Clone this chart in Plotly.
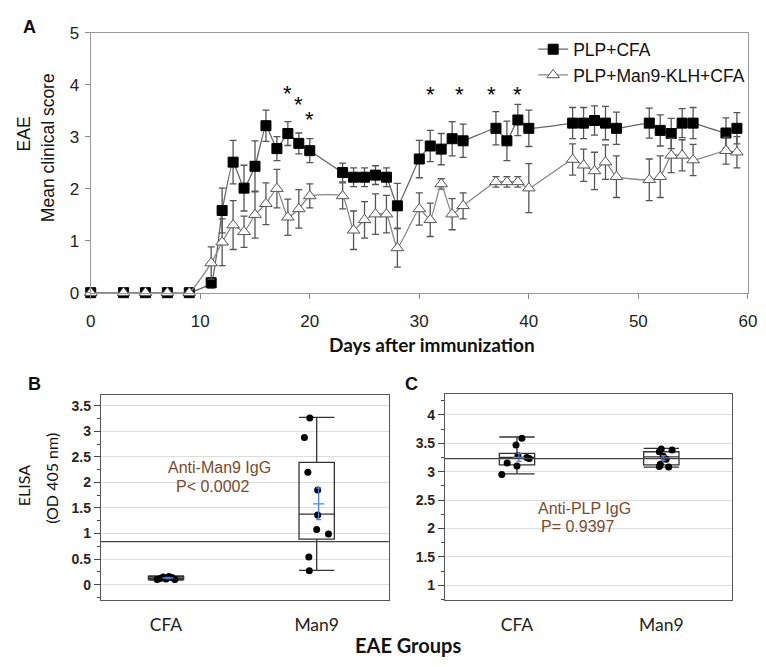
import plotly.graph_objects as go

W, H = 766, 667

def px(x):
    return x / W

def py(y):
    return 1 - y / H

# ---------------- Panel A data ----------------
days = [0, 3, 5, 7, 9, 11, 12, 13, 14, 15, 16, 17, 18, 19, 20, 23, 24, 25, 26, 27, 28,
        30, 31, 32, 33, 34, 37, 38, 39, 40, 44, 45, 46, 47, 48, 51, 52, 53, 54, 55, 58, 59]
cfa_mean = [0, 0, 0, 0, 0, 0.19, 1.58, 2.51, 2.01, 2.43, 3.21, 2.77, 3.06, 2.87, 2.73,
            2.31, 2.22, 2.22, 2.26, 2.22, 1.67,
            2.57, 2.82, 2.76, 2.96, 2.92, 3.16, 2.92, 3.32, 3.16, 3.26, 3.26, 3.31, 3.26, 3.16,
            3.26, 3.12, 3.06, 3.26, 3.26, 3.07, 3.16]
cfa_err = [0, 0, 0, 0, 0, 0.1, 0.43, 0.42, 0.44, 0.49, 0.3, 0.23, 0.23, 0.2, 0.23,
           0.18, 0.18, 0.18, 0.18, 0.18, 0.43,
           0.36, 0.3, 0.3, 0.33, 0.32, 0.32, 0.38, 0.3, 0.35, 0.3, 0.3, 0.28, 0.32, 0.31,
           0.29, 0.3, 0.29, 0.28, 0.3, 0.29, 0.3]
man9_mean = [0, 0, 0, 0, 0, 0.57, 0.97, 1.30, 1.17, 1.50, 1.71, 2.0, 1.45, 1.61, 1.86,
             1.86, 1.20, 1.40, 1.51, 1.51, 0.86,
             1.61, 1.40, 2.09, 1.51, 1.67, 2.13, 2.13, 2.13, 2.01, 2.56, 2.45, 2.34, 2.51, 2.23,
             2.17, 2.23, 2.64, 2.64, 2.55, 2.73, 2.70]
man9_err = [0, 0, 0, 0, 0, 0.31, 0.45, 0.47, 0.3, 0.45, 0.4, 0.37, 0.35, 0.37, 0.23,
            0.25, 0.37, 0.35, 0.39, 0.36, 0.37,
            0.31, 0.32, 0.1, 0.3, 0.25, 0.1, 0.1, 0.1, 0.47, 0.3, 0.31, 0.36, 0.33, 0.4,
            0.4, 0.4, 0.33, 0.3, 0.3, 0.26, 0.3]
star_days = [18, 19, 20, 31, 33.7, 36.6, 39]
star_heights = [3.87, 3.66, 3.36, 3.85, 3.85, 3.85, 3.85]
x_ticks_a = [0, 10, 20, 30, 40, 50, 60]
y_ticks_a = [0, 1, 2, 3, 4, 5]

# ---------------- Panel B / C data ----------------
groups = ["CFA", "Man9"]
b_cfa_vals = [0.10, 0.12, 0.15, 0.11, 0.16, 0.14, 0.10, 0.13]
b_man9_vals = [3.26, 2.88, 2.20, 1.85, 1.36, 1.08, 0.99, 0.54, 0.27]
b_box_lower = [0.09, 0.28]
b_box_q1 = [0.11, 0.89]
b_box_median = [0.13, 1.38]
b_box_q3 = [0.16, 2.39]
b_box_upper = [0.17, 3.27]
b_mean = [0.13, 1.58]
b_se = [0.01, 0.31]
b_grand_mean = 0.84

c_cfa_vals = [3.59, 3.47, 3.28, 3.23, 3.15, 3.10, 2.95, 3.25]
c_man9_vals = [3.40, 3.38, 3.35, 3.27, 3.22, 3.13, 3.08, 3.09]
c_box_lower = [2.96, 3.08]
c_box_q1 = [3.12, 3.12]
c_box_median = [3.25, 3.26]
c_box_q3 = [3.32, 3.35]
c_box_upper = [3.61, 3.41]
c_mean = [3.25, 3.24]
c_se = [0.07, 0.04]
c_grand_mean = 3.23

# jitter (horizontal pixel offsets of the dots, style only)
b_cfa_jit = [-9, -6, -3, 0, 3, 6, 9, -1]
b_man9_jit = [-7, -12.5, -9, 1, 1, 0, 12, -8, -7.5]
c_cfa_jit = [5, -1, 1, 12.5, -10, 0, -15.5, 10]
c_man9_jit = [0, 11, -2, 2, 5, -1, 7.5, -2]

ARIAL = "Liberation Sans"
CAL = "Lato"

fig = go.Figure()

# ----- Panel A traces -----
fig.add_trace(go.Scatter(
    x=days, y=cfa_mean, name="PLP+CFA", mode="lines+markers",
    line=dict(color="#666666", width=1.3, shape="spline", smoothing=0.4),
    marker=dict(symbol="square", size=10, color="black", line=dict(color="black", width=1)),
    error_y=dict(type="data", array=cfa_err, color="#555555", thickness=1.3, width=3.5),
    cliponaxis=False, xaxis="x", yaxis="y"))
fig.add_trace(go.Scatter(
    x=days, y=man9_mean, name="PLP+Man9-KLH+CFA", mode="lines+markers",
    line=dict(color="#888888", width=1.3, shape="spline", smoothing=0.4),
    marker=dict(symbol="triangle-up", size=11, color="white", line=dict(color="#555555", width=1)),
    error_y=dict(type="data", array=man9_err, color="#555555", thickness=1.3, width=3.5),
    cliponaxis=False, xaxis="x", yaxis="y"))

for d, h in zip(star_days, star_heights):
    fig.add_annotation(x=d, y=h, xref="x", yref="y", text="*", showarrow=False,
                       font=dict(family=ARIAL, size=22, color="black"), yshift=-2)

# ----- Panel B / C traces -----
def panel(xa, ya, vals_list, jit_list, unit_px, lower, q1, med, q3, upper, mean, se):
    for gi in range(2):
        fig.add_trace(go.Box(
            x=[gi], lowerfence=[lower[gi]], q1=[q1[gi]], median=[med[gi]], q3=[q3[gi]],
            upperfence=[upper[gi]], width=36 / unit_px, whiskerwidth=1,
            fillcolor="rgba(0,0,0,0)", line=dict(color="#333333", width=1.3),
            boxpoints=False, showlegend=False, xaxis=xa, yaxis=ya, hoverinfo="skip"))
        vals = vals_list[gi]
        jit = jit_list[gi]
        fig.add_trace(go.Scatter(
            x=[gi + j / unit_px for j in jit], y=vals, mode="markers",
            marker=dict(color="black", size=7), showlegend=False, xaxis=xa, yaxis=ya))
        fig.add_trace(go.Scatter(
            x=[gi + 2 / unit_px], y=[mean[gi]], mode="markers",
            marker=dict(symbol="line-ew", size=8, line=dict(color="#4a80e8", width=1.3)),
            error_y=dict(type="data", array=[se[gi]], color="#4a80e8", thickness=1.3, width=2.5),
            showlegend=False, xaxis=xa, yaxis=ya))

panel("x2", "y2", [b_cfa_vals, b_man9_vals], [b_cfa_jit, b_man9_jit], 153.5,
      b_box_lower, b_box_q1, b_box_median, b_box_q3, b_box_upper, b_mean, b_se)
panel("x3", "y3", [c_cfa_vals, c_man9_vals], [c_cfa_jit, c_man9_jit], 147.0,
      c_box_lower, c_box_q1, c_box_median, c_box_q3, c_box_upper, c_mean, c_se)

fig.add_shape(type="line", xref="x2 domain", yref="y2", x0=0, x1=1,
              y0=b_grand_mean, y1=b_grand_mean, line=dict(color="#444444", width=1.2))
fig.add_shape(type="line", xref="x3 domain", yref="y3", x0=0, x1=1,
              y0=c_grand_mean, y1=c_grand_mean, line=dict(color="#444444", width=1.2))

# ----- axes -----
axA = dict(showline=True, linecolor="#999999", linewidth=1.2, mirror=True,
           ticks="outside", tickcolor="#888888", ticklen=5, showgrid=False, zeroline=False,
           ticklabeloverflow="allow",
           tickfont=dict(family=ARIAL, size=17, color="#222222"))
fig.update_layout(
    xaxis=dict(domain=[px(87.3), px(756.7)], range=[0, 60], tickvals=x_ticks_a,
               anchor="y", ticklabelstandoff=8, **axA),
    yaxis=dict(domain=[py(292), py(24.3)], range=[0, 5], tickvals=y_ticks_a,
               anchor="x", ticklabelstandoff=2, **axA),
)

def bc_y(domain, rng, tickvals):
    return dict(domain=domain, range=rng, tickvals=tickvals,
                ticktext=[("%g" % v) for v in tickvals],
                showline=True, linecolor="#555555", linewidth=1.3, mirror=True,
                ticks="outside", ticklen=6, tickcolor="#444444",
                minor=dict(ticks="outside", ticklen=3, dtick=0.25, tickcolor="#444444", showgrid=False),
                showgrid=True, gridcolor="#dcdcdc", gridwidth=1, zeroline=False,
                tickfont=dict(family=ARIAL, size=14, color="#2a2520", weight="bold"))

def bc_x(domain, rng, anchor):
    return dict(domain=domain, range=rng, tickvals=[0, 1], ticktext=groups,
                showline=True, linecolor="#555555", linewidth=1.3, mirror=True,
                ticks="", showgrid=False, zeroline=False, anchor=anchor,
                ticklabelstandoff=9,
                tickfont=dict(family=CAL, size=17.5, color="#222222"))

fig.update_layout(
    xaxis2=bc_x([px(97.7), px(391)], [-0.432, 1.479], "y2"),
    yaxis2=dict(anchor="x2", **bc_y([py(608.3), py(397.3)], [-0.3, 3.71],
                                      [0, 0.5, 1, 1.5, 2, 2.5, 3, 3.5])),
    xaxis3=bc_x([px(448.3), px(740.7)], [-0.498, 1.491], "y3"),
    yaxis3=dict(anchor="x3", **bc_y([py(608.3), py(396.7)], [0.74, 4.36],
                                      [1, 1.5, 2, 2.5, 3, 3.5, 4])),
)

# ----- text annotations -----
def ann(x, y, text, size, family=ARIAL, bold=False, color="#111111", angle=0, xanchor="center"):
    fig.add_annotation(x=px(x), y=py(y), xref="paper", yref="paper", text=text,
                       showarrow=False, textangle=angle, xanchor=xanchor, yanchor="middle",
                       font=dict(family=family, size=size, color=color,
                                 weight="bold" if bold else "normal"))

ann(25, 19, "A", 18, bold=True)
ann(30, 386, "B", 18, bold=True)
ann(414, 386, "C", 18, bold=True)
ann(19.5, 129, "EAE", 17.5, angle=-90)
ann(44.5, 142.5, "Mean clinical score", 17.5, angle=-90)
ann(435, 345, "Days after immunization", 19, family=CAL, bold=True)
ann(18.5, 491, "ELISA", 16, family=CAL, angle=-90)
ann(47.5, 483, "(OD 405 nm)", 16, family=CAL, angle=-90)
ann(410, 655, "EAE Groups", 20, family=CAL, bold=True)
brown = "#7a4a30"
ann(219, 472, "Anti-Man9 IgG", 16, color=brown)
ann(212, 492, "P< 0.0002", 16, color=brown)
ann(590, 514, "Anti-PLP IgG", 16, color=brown)
ann(584, 533, "P= 0.9397", 16, color=brown)

fig.update_layout(
    width=W, height=H, margin=dict(l=0, r=0, t=0, b=0),
    paper_bgcolor="white", plot_bgcolor="white",
    showlegend=True,
    legend=dict(x=px(538), y=py(23), xanchor="left", yanchor="top",
                font=dict(family=ARIAL, size=17.5, color="#111111"),
                bgcolor="rgba(0,0,0,0)", itemwidth=30, tracegroupgap=0),
)

fig.write_html("out.html", config={"displayModeBar": False},
               post_script="document.body.style.margin='0';document.body.style.padding='0';")
